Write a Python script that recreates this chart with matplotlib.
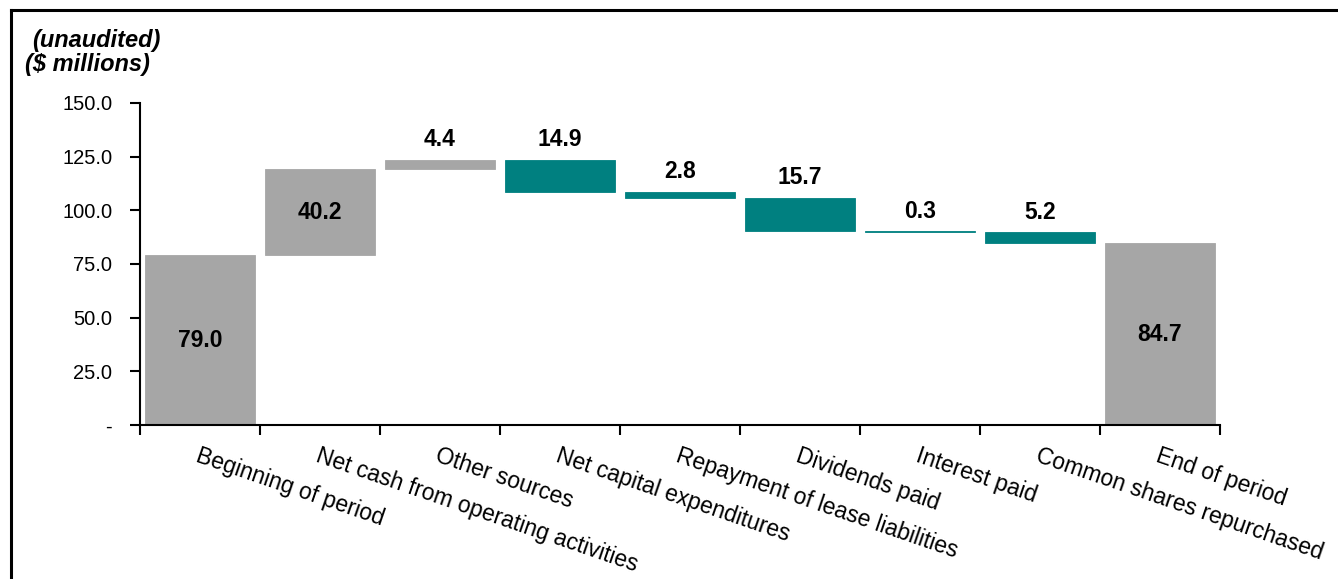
import numpy as np
import matplotlib.pyplot as plt
from matplotlib.lines import Line2D

plt.rcParams['font.family'] = ['Liberation Sans', 'DejaVu Sans']

categories = ["Beginning of period", "Net cash from operating activities", "Other sources",
              "Net capital expenditures", "Repayment of lease liabilities", "Dividends paid",
              "Interest paid", "Common shares repurchased", "End of period"]
# signed change for each step; totals are flagged separately
changes = [79.0, 40.2, 4.4, -14.9, -2.8, -15.7, -0.3, -5.2, 84.7]
is_total = [True, False, False, False, False, False, False, False, True]

gray = "#A6A6A6"
teal = "#008080"

fig = plt.figure(figsize=(13.38, 5.79), dpi=100)
ax = fig.add_axes([140 / 1338, 1 - 425 / 579, 1080 / 1338, 322 / 579])

x = np.arange(len(categories))
level = 0.0
for i, (v, tot) in enumerate(zip(changes, is_total)):
    if tot:
        bottom, h = 0.0, v
        level = v
        col = gray
    else:
        bottom = level if v > 0 else level + v
        h = abs(v)
        level += v
        col = gray if v > 0 else teal
    ax.bar(i, h, bottom=bottom, width=0.92, color=col, edgecolor=col, linewidth=0.6)
    lab = f"{abs(v):.1f}"
    if tot or i == 1:
        ax.text(i, bottom + h / 2, lab, ha="center", va="center",
                fontsize=16.5, fontweight="bold")
    else:
        ax.annotate(lab, (i, bottom + h), xytext=(0, 6), textcoords="offset points",
                    ha="center", va="bottom", fontsize=16.5, fontweight="bold")

ax.set_xlim(-0.5, len(categories) - 0.5)
ax.set_ylim(0, 150)
ax.set_yticks(np.arange(0, 151, 25))
ax.set_yticklabels(["-" if t == 0 else f"{t:.1f}" for t in np.arange(0, 151, 25)],
                   fontsize=14.5)
ax.tick_params(axis="y", length=7, width=1.5, pad=13)

ax.set_xticks(np.arange(-0.5, len(categories), 1.0))
ax.set_xticklabels([])
ax.tick_params(axis="x", which="major", length=7, width=1.5, direction="out")
ax.set_xticks(x, minor=True)
ax.set_xticklabels(categories, minor=True, rotation=-19, ha="left", va="top",
                   rotation_mode="anchor", fontsize=16.5)
ax.tick_params(axis="x", which="minor", length=0, pad=14)

for s in ["top", "right"]:
    ax.spines[s].set_visible(False)
for s in ["left", "bottom"]:
    ax.spines[s].set_linewidth(1.5)

fig.text(32 / 1338, 1 - 40 / 579, "(unaudited)", fontsize=17, fontweight="bold",
         fontstyle="italic", va="center", ha="left")
fig.text(25 / 1338, 1 - 65 / 579, "($ millions)", fontsize=17, fontweight="bold",
         fontstyle="italic", va="center", ha="left")

# frame around the chart
fig.add_artist(Line2D([11 / 1338, 11 / 1338], [0, 1 - 10 / 579], color="black", lw=2.2))
fig.add_artist(Line2D([11 / 1338, 1], [1 - 10 / 579, 1 - 10 / 579], color="black", lw=2.2))

fig.savefig("out.png", dpi=100)
